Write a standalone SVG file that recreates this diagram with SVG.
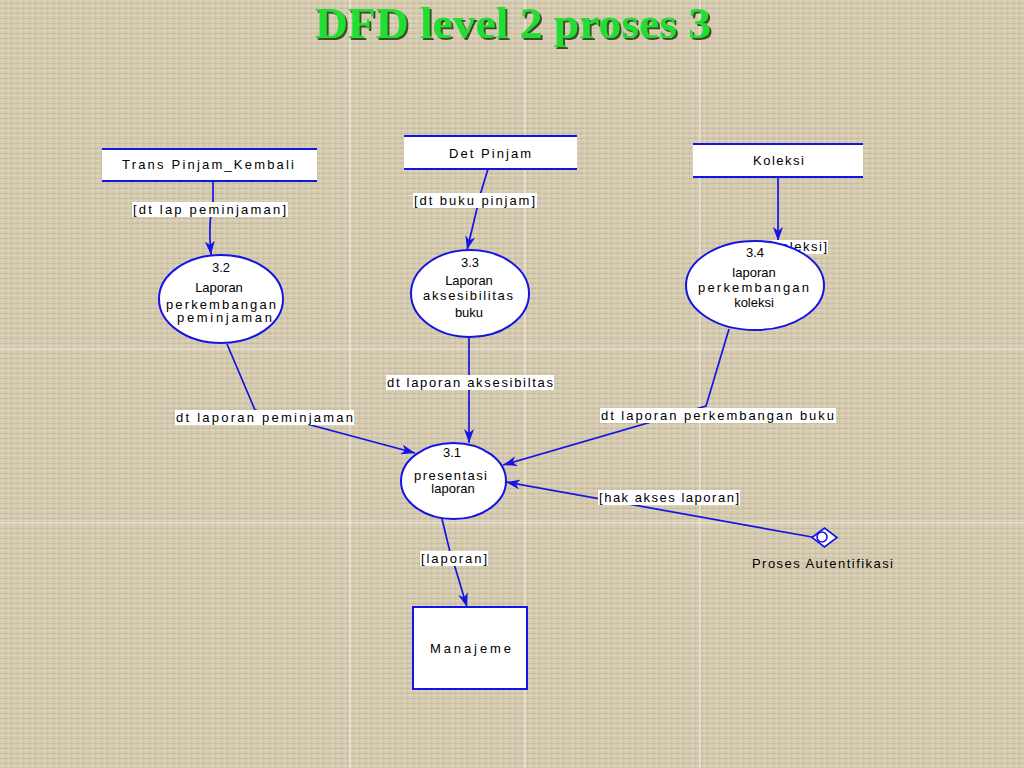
<svg xmlns="http://www.w3.org/2000/svg" width="1024" height="768" viewBox="0 0 1024 768">
<defs>
<pattern id="canvas" width="6" height="5" patternUnits="userSpaceOnUse">
<rect width="6" height="5" fill="#d5cbb1"/>
<rect y="0" width="6" height="1" fill="#ded5bd"/>
<rect y="3" width="6" height="1" fill="#c9bda1"/>
<rect x="2" width="1" height="5" fill="#dad0b8" opacity="0.7"/>
<rect x="5" width="1" height="5" fill="#c6ba9e" opacity="0.5"/>
</pattern>
<marker id="arr" viewBox="0 0 14 10" refX="14" refY="5" markerWidth="14" markerHeight="10" markerUnits="userSpaceOnUse" orient="auto">
<path d="M0,0 L14,5 L0,10 L4,5 Z" fill="#1414e6"/>
</marker>
<filter id="sh" x="-5%" y="-20%" width="110%" height="140%">
<feDropShadow dx="2" dy="2" stdDeviation="0.6" flood-color="#1a3a10" flood-opacity="0.85"/>
</filter>
</defs>
<style>
.t{font-family:"Liberation Sans",Arial,sans-serif;font-size:13px;fill:#000}
.c{text-anchor:middle}
.proc{fill:#fff;stroke:#1414e6;stroke-width:2}
.store{fill:#fff}
.sl{stroke:#1414e6;stroke-width:2}
.flow{fill:none;stroke:#1414e6;stroke-width:1.7}
.lbg{fill:#fff}
.grid{stroke:#f4f0e6;stroke-width:1}
</style>
<rect width="1024" height="768" fill="url(#canvas)"/>
<g id="grid">
<line class="grid" x1="350" y1="0" x2="350" y2="768"/>
<line class="grid" x1="525" y1="0" x2="525" y2="768"/>
<line class="grid" x1="700" y1="0" x2="700" y2="768"/>
<line class="grid" x1="0" y1="349" x2="1024" y2="349"/>
<line class="grid" x1="0" y1="523" x2="1024" y2="523"/>
</g>
<text x="513" y="38" text-anchor="middle" font-family="'Liberation Serif','Times New Roman',serif" font-weight="bold" font-size="45" fill="#22dd33" textLength="396" lengthAdjust="spacingAndGlyphs" filter="url(#sh)">DFD level 2 proses 3</text>

<g id="connectors">
<path class="flow" d="M213,181 L213,205 Q208,222 211,255" marker-end="url(#arr)"/>
<path class="flow" d="M488,169 L481,192 L467,250" marker-end="url(#arr)"/>
<path class="flow" d="M778,177 L778,241" marker-end="url(#arr)"/>
<path class="flow" d="M227,344 L255,410 L415,453" marker-end="url(#arr)"/>
<path class="flow" d="M469,337 L469,443" marker-end="url(#arr)"/>
<path class="flow" d="M729,329 L706,406 L503,465" marker-end="url(#arr)"/>
<path class="flow" d="M812,537 L506,482" marker-end="url(#arr)"/>
<path class="flow" d="M442,519 L450,552 L455,567 L467,607" marker-end="url(#arr)"/>
<g id="flow-labels">
<rect class="lbg" x="132" y="202" width="156" height="15"/>
<text class="t" x="133" y="214" textLength="153" lengthAdjust="spacing">[dt lap peminjaman]</text>
<rect class="lbg" x="413" y="193" width="124" height="15"/>
<text class="t" x="414" y="205" textLength="121" lengthAdjust="spacing">[dt buku pinjam]</text>
<rect class="lbg" x="772" y="240" width="56" height="14"/>
<text class="t" x="773" y="251" textLength="54" lengthAdjust="spacing">koleksi]</text>
<rect class="lbg" x="175" y="410" width="179" height="15"/>
<text class="t" x="176" y="422" textLength="177" lengthAdjust="spacing">dt laporan peminjaman</text>
<rect class="lbg" x="386" y="375" width="168" height="15"/>
<text class="t" x="387" y="387" textLength="166" lengthAdjust="spacing">dt laporan aksesibiltas</text>
<rect class="lbg" x="600" y="408" width="236" height="15"/>
<text class="t" x="601" y="420" textLength="233" lengthAdjust="spacing">dt laporan perkembangan buku</text>
<rect class="lbg" x="598" y="490" width="142" height="15"/>
<text class="t" x="599" y="502" textLength="140" lengthAdjust="spacing">[hak akses laporan]</text>
<rect class="lbg" x="420" y="551" width="68" height="15"/>
<text class="t" x="421" y="563" textLength="66" lengthAdjust="spacing">[laporan]</text>
</g>
</g>

<g id="store-trans">
<rect class="store" x="102" y="149" width="215" height="32"/>
<line class="sl" x1="102" y1="149" x2="317" y2="149"/>
<line class="sl" x1="102" y1="181" x2="317" y2="181"/>
<text class="t" x="122" y="169" textLength="172" lengthAdjust="spacing">Trans Pinjam_Kembali</text>
</g>
<g id="store-detpinjam">
<rect class="store" x="404" y="136" width="173" height="33"/>
<line class="sl" x1="404" y1="136" x2="577" y2="136"/>
<line class="sl" x1="404" y1="169" x2="577" y2="169"/>
<text class="t" x="449" y="158" textLength="82" lengthAdjust="spacing">Det Pinjam</text>
</g>
<g id="store-koleksi">
<rect class="store" x="693" y="144" width="170" height="33"/>
<line class="sl" x1="693" y1="144" x2="863" y2="144"/>
<line class="sl" x1="693" y1="177" x2="863" y2="177"/>
<text class="t" x="753" y="165" textLength="51" lengthAdjust="spacing">Koleksi</text>
</g>

<g id="proc-3-2">
<ellipse class="proc" cx="221" cy="299" rx="62" ry="44"/>
<text class="t c" x="221" y="272">3.2</text>
<text class="t c" x="219" y="292">Laporan</text>
<text class="t" x="166" y="309" textLength="110" lengthAdjust="spacing">perkembangan</text>
<text class="t" x="177" y="322" textLength="95" lengthAdjust="spacing">peminjaman</text>
</g>
<g id="proc-3-3">
<ellipse class="proc" cx="470" cy="293.5" rx="59" ry="43.5"/>
<text class="t c" x="470" y="267">3.3</text>
<text class="t c" x="469" y="285">Laporan</text>
<text class="t" x="423" y="300" textLength="90" lengthAdjust="spacing">aksesibilitas</text>
<text class="t c" x="469" y="317">buku</text>
</g>
<g id="proc-3-4">
<ellipse class="proc" cx="755" cy="285.5" rx="69" ry="44.5"/>
<text class="t c" x="755" y="257">3.4</text>
<text class="t c" x="754" y="277">laporan</text>
<text class="t" x="698" y="292" textLength="111" lengthAdjust="spacing">perkembangan</text>
<text class="t c" x="754" y="307">koleksi</text>
</g>
<g id="proc-3-1">
<ellipse class="proc" cx="453.5" cy="481" rx="52.5" ry="38"/>
<text class="t c" x="452" y="457">3.1</text>
<text class="t" x="414" y="480" textLength="73" lengthAdjust="spacing">presentasi</text>
<text class="t c" x="453" y="493">laporan</text>
</g>
<g id="entity-manajeme">
<rect x="413" y="607" width="114" height="82" fill="#fff" stroke="#1414e6" stroke-width="2"/>
<text class="t" x="430" y="653" textLength="81" lengthAdjust="spacing">Manajeme</text>
</g>
<g id="proses-autentifikasi">
<path d="M812,537.5 L824.5,528 L837,537.5 L824.5,547 Z" fill="#fff" stroke="#1414e6" stroke-width="1.6"/>
<circle cx="822" cy="537" r="5" fill="#fff" stroke="#1414e6" stroke-width="1.6"/>
<text class="t" x="752" y="568" textLength="141" lengthAdjust="spacing">Proses Autentifikasi</text>
</g>
</svg>
